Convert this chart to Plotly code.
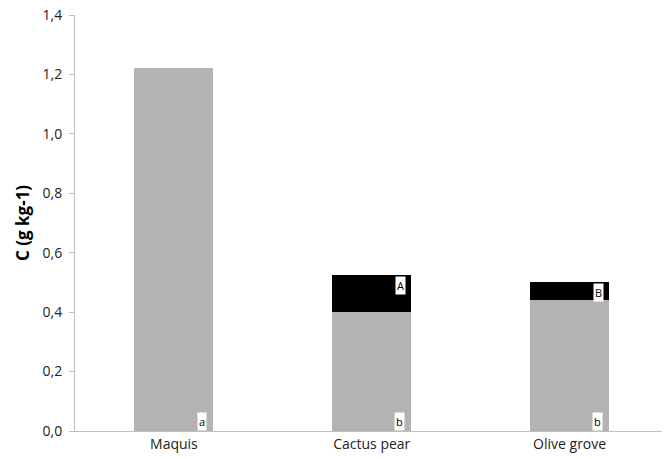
import plotly.graph_objects as go

categories = ["Maquis", "Cactus pear", "Olive grove"]
lower_values = [1.22, 0.40, 0.44]
upper_values = [0.0, 0.125, 0.06]
lower_letters = ["a", "b", "b"]
upper_letters = [None, "A", "B"]
y_ticks = [0.0, 0.2, 0.4, 0.6, 0.8, 1.0, 1.2, 1.4]
y_tick_text = ["0,0", "0,2", "0,4", "0,6", "0,8", "1,0", "1,2", "1,4"]
y_title = "C (g kg-1)"

FONT = "Open Sans"
fig = go.Figure()
fig.add_trace(go.Bar(x=categories, y=lower_values, marker=dict(color="#b3b3b3", line=dict(width=0)), showlegend=False))
fig.add_trace(go.Bar(x=categories, y=upper_values, marker=dict(color="#000000", line=dict(width=0)), showlegend=False))

for i, c in enumerate(categories):
    fig.add_annotation(x=c, y=0, xref="x", yref="y", text=lower_letters[i], showarrow=False,
                       xshift=28, yshift=10, bgcolor="white", borderpad=1,
                       font=dict(family=FONT, size=11, color="black"))
    if upper_letters[i]:
        fig.add_annotation(x=c, y=lower_values[i] + upper_values[i], xref="x", yref="y",
                           text=upper_letters[i], showarrow=False,
                           xshift=29, yshift=-10, bgcolor="white", borderpad=1,
                           font=dict(family=FONT, size=11, color="black"))

fig.add_annotation(x=0, y=0.5, xref="paper", yref="paper", text="<b>" + y_title + "</b>",
                   textangle=-90, showarrow=False, xanchor="center", yanchor="middle",
                   xshift=-53, yshift=0, font=dict(family=FONT, size=17, color="black"))

fig.update_layout(
    barmode="stack", bargap=0.6,
    width=664, height=459,
    margin=dict(l=75, r=2, t=15, b=28, autoexpand=False),
    plot_bgcolor="white", paper_bgcolor="white",
    font=dict(family=FONT, size=14, color="#222222"),
    xaxis=dict(range=[-0.5, 2.467], showline=True, linecolor="#bfbfbf", linewidth=1,
               ticks="", showgrid=False, tickfont=dict(size=14), automargin=False),
    yaxis=dict(range=[0, 1.4], tickvals=y_ticks, ticktext=y_tick_text, showline=True,
               linecolor="#bfbfbf", linewidth=1, ticks="outside", ticklen=5, tickcolor="#bfbfbf",
               showgrid=False, zeroline=False, tickfont=dict(size=14), ticklabelstandoff=4,
               automargin=False),
)

fig.write_html("out.html", config={"displayModeBar": False},
               post_script="document.body.style.margin='0';document.body.style.overflow='hidden';")
